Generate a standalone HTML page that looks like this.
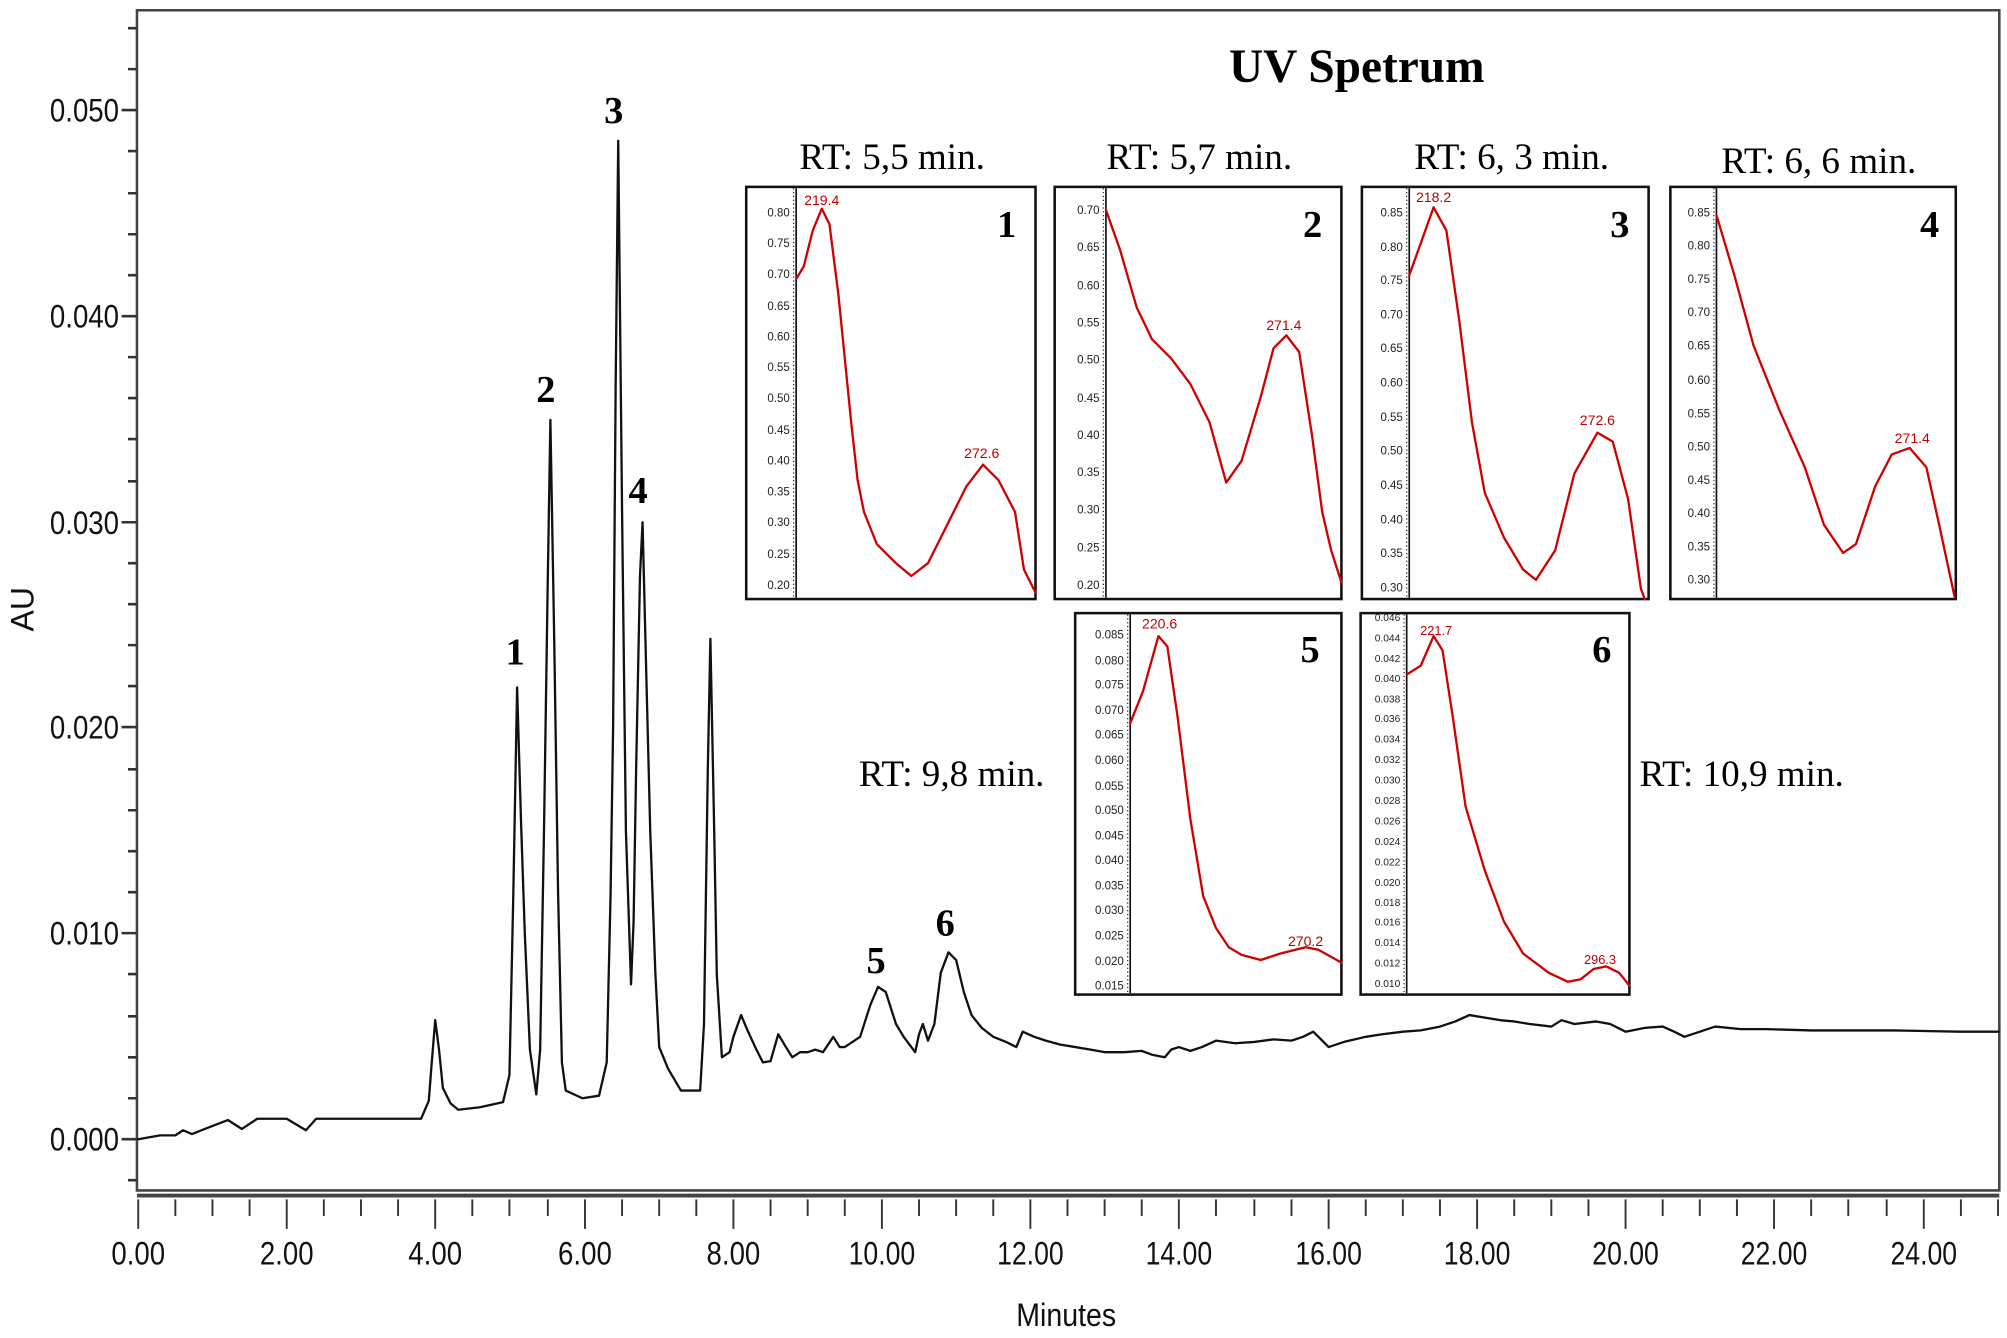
<!DOCTYPE html>
<html><head><meta charset="utf-8"><style>
html,body{margin:0;padding:0;background:#fff;}
svg{display:block;}
.ax{font-family:"Liberation Sans",sans-serif;font-size:25px;fill:#111;}
.tk{font-family:"Liberation Sans",sans-serif;font-size:9px;fill:#222;text-anchor:end;}
.pk{font-family:"Liberation Sans",sans-serif;font-size:11px;fill:#c00000;text-anchor:middle;}
.bn{font-family:"Liberation Serif",serif;font-size:30px;font-weight:bold;fill:#000;}
.rt{font-family:"Liberation Serif",serif;font-size:29px;fill:#000;}
</style></head><body>
<svg width="2007" height="1338" viewBox="0 0 1568 1045.3" preserveAspectRatio="none" xmlns="http://www.w3.org/2000/svg">
<rect width="1568" height="1046" fill="#fff"/>
<path d="M107,8 H1562 V930 H107 Z" fill="none" stroke="#444" stroke-width="2"/>
<g stroke="#333" stroke-width="2">
<path d="M95,890H107M95,729H107M95,568H107M95,408H107M95,247H107M95,86H107"/>
<path d="M100,922H107M100,858H107M100,826H107M100,794H107M100,761H107M100,697H107M100,665H107M100,633H107M100,601H107M100,536H107M100,504H107M100,472H107M100,440H107M100,376H107M100,343H107M100,311H107M100,279H107M100,215H107M100,183H107M100,151H107M100,118H107M100,54H107M100,22H107"/>
</g>
<g class="ax" text-anchor="end">
<text x="93" y="899" textLength="54" lengthAdjust="spacingAndGlyphs">0.000</text>
<text x="93" y="738" textLength="54" lengthAdjust="spacingAndGlyphs">0.010</text>
<text x="93" y="577" textLength="54" lengthAdjust="spacingAndGlyphs">0.020</text>
<text x="93" y="417" textLength="54" lengthAdjust="spacingAndGlyphs">0.030</text>
<text x="93" y="256" textLength="54" lengthAdjust="spacingAndGlyphs">0.040</text>
<text x="93" y="95" textLength="54" lengthAdjust="spacingAndGlyphs">0.050</text>
</g>
<text class="ax" transform="translate(26,476) rotate(-90)" text-anchor="middle" font-size="22">AU</text>
<path d="M107,934H1562" stroke="#444" stroke-width="3"/>
<g stroke="#333" stroke-width="1.5">
<path d="M108,937V960M224,937V960M340,937V960M457,937V960M573,937V960M689,937V960M805,937V960M921,937V960M1038,937V960M1154,937V960M1270,937V960M1386,937V960M1503,937V960"/>
<path d="M137,937V950M166,937V950M195,937V950M253,937V950M282,937V950M311,937V950M369,937V950M398,937V950M428,937V950M486,937V950M515,937V950M544,937V950M602,937V950M631,937V950M660,937V950M718,937V950M747,937V950M776,937V950M834,937V950M863,937V950M892,937V950M950,937V950M980,937V950M1009,937V950M1067,937V950M1096,937V950M1125,937V950M1183,937V950M1212,937V950M1241,937V950M1299,937V950M1328,937V950M1357,937V950M1415,937V950M1444,937V950M1474,937V950M1532,937V950M1561,937V950"/>
</g>
<g class="ax" text-anchor="middle">
<text x="108" y="988" textLength="42" lengthAdjust="spacingAndGlyphs">0.00</text>
<text x="224" y="988" textLength="42" lengthAdjust="spacingAndGlyphs">2.00</text>
<text x="340" y="988" textLength="42" lengthAdjust="spacingAndGlyphs">4.00</text>
<text x="457" y="988" textLength="42" lengthAdjust="spacingAndGlyphs">6.00</text>
<text x="573" y="988" textLength="42" lengthAdjust="spacingAndGlyphs">8.00</text>
<text x="689" y="988" textLength="52" lengthAdjust="spacingAndGlyphs">10.00</text>
<text x="805" y="988" textLength="52" lengthAdjust="spacingAndGlyphs">12.00</text>
<text x="921" y="988" textLength="52" lengthAdjust="spacingAndGlyphs">14.00</text>
<text x="1038" y="988" textLength="52" lengthAdjust="spacingAndGlyphs">16.00</text>
<text x="1154" y="988" textLength="52" lengthAdjust="spacingAndGlyphs">18.00</text>
<text x="1270" y="988" textLength="52" lengthAdjust="spacingAndGlyphs">20.00</text>
<text x="1386" y="988" textLength="52" lengthAdjust="spacingAndGlyphs">22.00</text>
<text x="1503" y="988" textLength="52" lengthAdjust="spacingAndGlyphs">24.00</text>
<text x="833" y="1036" textLength="78" lengthAdjust="spacingAndGlyphs">Minutes</text>
</g>
<polyline fill="none" stroke="#111" stroke-width="1.8" stroke-linejoin="round" stroke-linecap="round" points="108,890 125,887 137,887 143,883 150,886 160,882 178,875 189,882 201,874 212,874 224,874 239,883 247,874 329,874 335,860 337,834 340,797 343,820 346,850 352,862 358,867 375,865 393,861 398,840 401,700 404,537 407,640 410,729 414,820 419,855 422,820 425,649 428,450 430,328 433,500 436,697 439,830 442,852 455,858 468,856 474,830 477,700 479,568 481,300 483,110 486,400 489,649 493,769 495,720 497,600 500,450 502,408 505,530 508,649 512,760 515,818 522,835 532,852 547,852 550,800 553,600 555,499 558,650 560,761 564,826 570,822 573,810 579,793 584,805 590,818 596,830 602,829 608,808 614,818 619,826 625,822 631,822 637,820 643,822 651,810 656,818 660,818 666,814 672,810 680,785 686,771 692,775 700,800 706,810 712,818 715,822 718,808 721,800 725,813 730,800 735,760 741,744 747,750 753,775 759,793 767,803 776,810 786,814 794,818 799,806 808,810 817,813 828,816 840,818 852,820 863,822 878,822 892,821 900,824 910,826 915,820 921,818 930,821 939,818 950,813 965,815 980,814 995,812 1009,813 1018,810 1026,806 1032,812 1038,818 1050,814 1067,810 1080,808 1096,806 1110,805 1125,802 1137,798 1148,793 1160,795 1172,797 1183,798 1195,800 1212,802 1220,797 1230,800 1247,798 1258,800 1270,806 1285,803 1299,802 1308,806 1316,810 1328,806 1340,802 1360,804 1380,804 1415,805 1450,805 1480,805 1531,806 1562,806"/>
<g class="bn">
<text x="395" y="519">1</text>
<text x="419" y="314">2</text>
<text x="472" y="96">3</text>
<text x="491" y="393">4</text>
<text x="677" y="760">5</text>
<text x="731" y="731">6</text>
</g>
<text x="1060" y="64" text-anchor="middle" style="font-family:'Liberation Serif',serif;font-size:37px;font-weight:bold">UV Spetrum</text>
<g class="rt" text-anchor="middle">
<text x="697" y="132">RT: 5,5 min.</text>
<text x="937" y="132">RT: 5,7 min.</text>
<text x="1181" y="132">RT: 6, 3 min.</text>
<text x="1421" y="135">RT: 6, 6 min.</text>
</g>
<text class="rt" x="671" y="614">RT: 9,8 min.</text>
<text class="rt" x="1281" y="614">RT: 10,9 min.</text>
<g fill="none" stroke="#111" stroke-width="2">
<rect x="583" y="146" width="226" height="322"/>
<rect x="824" y="146" width="224" height="322"/>
<rect x="1064" y="146" width="224" height="322"/>
<rect x="1305" y="146" width="223" height="322"/>
<rect x="840" y="479" width="208" height="298"/>
<rect x="1063" y="479" width="210" height="298"/>
</g>
<g stroke="#111" stroke-width="1.3">
<path d="M622,147V467M864,147V467M1101,147V467M1341,147V467M883,480V776M1099,480V776"/>
</g>
<g stroke="#333" stroke-width="1" stroke-dasharray="1,2">
<path d="M620,147V467M862,147V467M1099,147V467M1339,147V467M881,480V776M1097,480V776"/>
</g>
<g class="tk">
<text x="617" y="169">0.80</text><text x="617" y="193">0.75</text><text x="617" y="217">0.70</text><text x="617" y="242">0.65</text><text x="617" y="266">0.60</text><text x="617" y="290">0.55</text><text x="617" y="314">0.50</text><text x="617" y="339">0.45</text><text x="617" y="363">0.40</text><text x="617" y="387">0.35</text><text x="617" y="411">0.30</text><text x="617" y="436">0.25</text><text x="617" y="460">0.20</text>
<text x="859" y="167">0.70</text><text x="859" y="196">0.65</text><text x="859" y="226">0.60</text><text x="859" y="255">0.55</text><text x="859" y="284">0.50</text><text x="859" y="314">0.45</text><text x="859" y="343">0.40</text><text x="859" y="372">0.35</text><text x="859" y="401">0.30</text><text x="859" y="431">0.25</text><text x="859" y="460">0.20</text>
<text x="1096" y="169">0.85</text><text x="1096" y="196">0.80</text><text x="1096" y="222">0.75</text><text x="1096" y="249">0.70</text><text x="1096" y="275">0.65</text><text x="1096" y="302">0.60</text><text x="1096" y="329">0.55</text><text x="1096" y="355">0.50</text><text x="1096" y="382">0.45</text><text x="1096" y="409">0.40</text><text x="1096" y="435">0.35</text><text x="1096" y="462">0.30</text>
<text x="1336" y="169">0.85</text><text x="1336" y="195">0.80</text><text x="1336" y="221">0.75</text><text x="1336" y="247">0.70</text><text x="1336" y="273">0.65</text><text x="1336" y="300">0.60</text><text x="1336" y="326">0.55</text><text x="1336" y="352">0.50</text><text x="1336" y="378">0.45</text><text x="1336" y="404">0.40</text><text x="1336" y="430">0.35</text><text x="1336" y="456">0.30</text>
<text x="878" y="499">0.085</text><text x="878" y="519">0.080</text><text x="878" y="538">0.075</text><text x="878" y="558">0.070</text><text x="878" y="577">0.065</text><text x="878" y="597">0.060</text><text x="878" y="617">0.055</text><text x="878" y="636">0.050</text><text x="878" y="656">0.045</text><text x="878" y="675">0.040</text><text x="878" y="695">0.035</text><text x="878" y="714">0.030</text><text x="878" y="734">0.025</text><text x="878" y="754">0.020</text><text x="878" y="773">0.015</text>
<text x="1094" y="485" font-size="8">0.046</text><text x="1094" y="501" font-size="8">0.044</text><text x="1094" y="517" font-size="8">0.042</text><text x="1094" y="533" font-size="8">0.040</text><text x="1094" y="549" font-size="8">0.038</text><text x="1094" y="564" font-size="8">0.036</text><text x="1094" y="580" font-size="8">0.034</text><text x="1094" y="596" font-size="8">0.032</text><text x="1094" y="612" font-size="8">0.030</text><text x="1094" y="628" font-size="8">0.028</text><text x="1094" y="644" font-size="8">0.026</text><text x="1094" y="660" font-size="8">0.024</text><text x="1094" y="676" font-size="8">0.022</text><text x="1094" y="692" font-size="8">0.020</text><text x="1094" y="708" font-size="8">0.018</text><text x="1094" y="723" font-size="8">0.016</text><text x="1094" y="739" font-size="8">0.014</text><text x="1094" y="755" font-size="8">0.012</text><text x="1094" y="771" font-size="8">0.010</text>
</g>
<g fill="none" stroke="#d00000" stroke-width="1.8" stroke-linejoin="round" stroke-linecap="round">
<polyline points="622,218 628,208 635,180 642,163 648,175 655,230 660,280 665,330 670,375 675,400 685,425 700,440 712,450 725,440 740,410 755,380 768,363 780,375 793,400 800,445 809,463"/>
<polyline points="864,164 875,195 888,240 900,265 915,280 930,300 945,330 958,377 970,360 985,310 995,272 1005,262 1015,275 1025,340 1033,400 1040,430 1048,455"/>
<polyline points="1101,215 1110,190 1120,162 1130,180 1140,250 1150,330 1160,385 1175,420 1190,445 1200,453 1215,430 1230,370 1248,338 1260,345 1272,390 1282,460 1285,468"/>
<polyline points="1341,168 1355,215 1370,270 1390,320 1410,365 1425,410 1440,432 1450,425 1465,380 1478,355 1492,350 1505,365 1515,410 1527,466"/>
<polyline points="883,565 893,540 905,497 912,505 920,560 930,640 940,700 950,725 960,740 970,746 985,750 1000,745 1020,740 1030,742 1048,752"/>
<polyline points="1099,527 1110,520 1120,497 1127,508 1135,560 1145,630 1160,680 1175,720 1190,745 1210,760 1225,767 1235,765 1245,757 1255,755 1265,760 1273,770"/>
</g>
<g class="pk">
<text x="642" y="160">219.4</text><text x="767" y="358">272.6</text>
<text x="1003" y="258">271.4</text>
<text x="1120" y="158">218.2</text><text x="1248" y="332">272.6</text>
<text x="1494" y="346">271.4</text>
<text x="906" y="491">220.6</text><text x="1020" y="739">270.2</text>
<text x="1122" y="496" font-size="10">221.7</text><text x="1250" y="753" font-size="10">296.3</text>
</g>
<g class="bn">
<text x="779" y="185">1</text><text x="1018" y="185">2</text><text x="1258" y="185">3</text><text x="1500" y="185">4</text>
<text x="1016" y="517">5</text><text x="1244" y="517">6</text>
</g>
</svg>
</body></html>
